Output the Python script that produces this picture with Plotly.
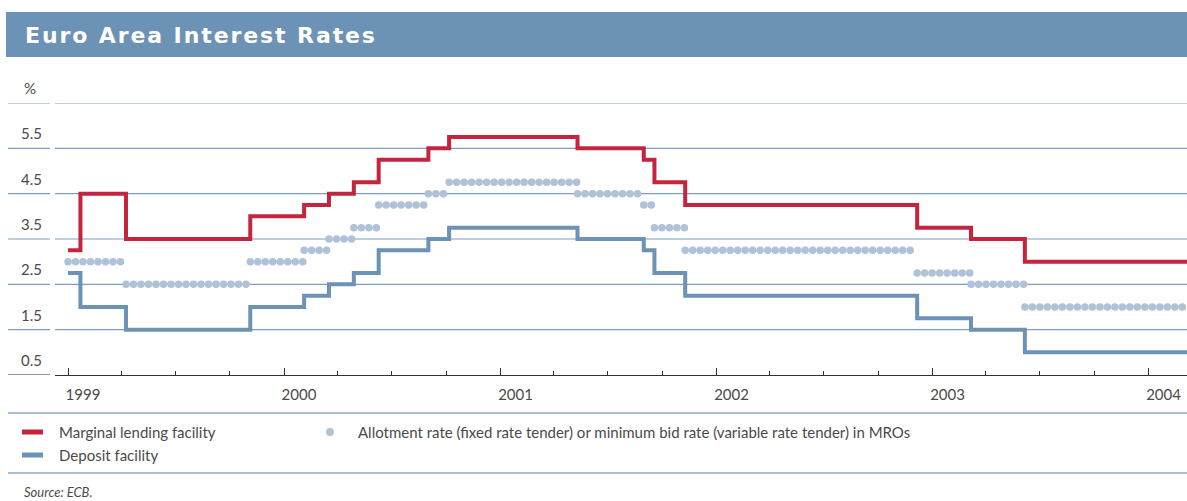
import plotly.graph_objects as go

# ---------------- data ----------------
change_dates = ["1999-01-01", "1999-01-22", "1999-04-09", "1999-11-05", "2000-02-04",
                "2000-03-17", "2000-04-28", "2000-06-09", "2000-09-01", "2000-10-06",
                "2001-05-11", "2001-08-31", "2001-09-18", "2001-11-09", "2002-12-06",
                "2003-03-07", "2003-06-06"]
end_date = "2004-03-06"
marginal_lending = [3.25, 4.50, 3.50, 4.00, 4.25, 4.50, 4.75, 5.25, 5.50, 5.75,
                    5.50, 5.25, 4.75, 4.25, 3.75, 3.50, 3.00]
deposit_facility = [2.75, 2.00, 1.50, 2.00, 2.25, 2.50, 2.75, 3.25, 3.50, 3.75,
                    3.50, 3.25, 2.75, 2.25, 1.75, 1.50, 1.00]
mro_rate = [3.00, 3.00, 2.50, 3.00, 3.25, 3.50, 3.75, 4.25, 4.50, 4.75,
            4.50, 4.25, 3.75, 3.25, 2.75, 2.50, 2.00]
y_ticks = [0.5, 1.5, 2.5, 3.5, 4.5, 5.5]
grid_vals = [1.5, 2.5, 3.5, 4.5, 5.5, 6.5]
x_range = ["1998-12-10", "2004-03-06"]

title_text = "Euro Area Interest Rates"
legend_labels = ["Marginal lending facility", "Deposit facility",
                 "Allotment rate (fixed rate tender) or minimum bid rate (variable rate tender) in MROs"]
source_text = "Source: ECB."

# ---------------- styles ----------------
RED = "#c3253f"
BLUE = "#6c92b5"
DOT = "#b0c2d8"
GRID = "#7d9dc0"
SEP = "#a9bfd6"
TXT = "#4a4a4a"
FONT = "Lato"

W, H = 1187, 501
L, R, T, B = 55, 1187, 103, 375


def px(x):
    return (x - L) / (R - L)


def py(y):
    return (B - y) / (B - T)


fig = go.Figure()

# MRO dotted segments (no vertical connectors)
seg_x, seg_y = [], []
i, n = 0, len(mro_rate)
while i < n:
    j = i
    while j + 1 < n and mro_rate[j + 1] == mro_rate[i]:
        j += 1
    start = change_dates[i]
    stop = change_dates[j + 1] if j + 1 < n else end_date
    seg_x += [start, stop, None]
    seg_y += [mro_rate[i], mro_rate[i], None]
    i = j + 1

fig.add_trace(go.Scatter(x=seg_x, y=seg_y, mode="lines", connectgaps=False,
                         line=dict(color=DOT, width=7.5, dash="0px,7.5px"),
                         hoverinfo="skip", showlegend=False))

fig.add_trace(go.Scatter(x=change_dates + [end_date], y=deposit_facility + [deposit_facility[-1]],
                         mode="lines", line=dict(color=BLUE, width=4, shape="hv"),
                         showlegend=False))
fig.add_trace(go.Scatter(x=change_dates + [end_date], y=marginal_lending + [marginal_lending[-1]],
                         mode="lines", line=dict(color=RED, width=4, shape="hv"),
                         showlegend=False))

shapes = []
# title bar
shapes.append(dict(type="rect", xref="paper", yref="paper", x0=px(6), x1=px(1187),
                   y0=py(57), y1=py(12), fillcolor=BLUE, line=dict(width=0), layer="below"))
# gridlines (main + left stub)
for v in grid_vals:
    for a, b in [(8, 50), (55, 1187)]:
        shapes.append(dict(type="line", xref="paper", yref="y", x0=px(a), x1=px(b), y0=v, y1=v,
                           line=dict(color=GRID, width=1.2), layer="below"))
# bottom axis left stub
shapes.append(dict(type="line", xref="paper", yref="y", x0=px(8), x1=px(50), y0=0.5, y1=0.5,
                   line=dict(color="#333333", width=1.2), layer="above"))
# separators
for yy in [413, 473]:
    shapes.append(dict(type="line", xref="paper", yref="paper", x0=px(8), x1=px(1187),
                       y0=py(yy), y1=py(yy), line=dict(color=SEP, width=2)))
# legend samples
shapes.append(dict(type="line", xref="paper", yref="paper", x0=px(22), x1=px(43),
                   y0=py(432), y1=py(432), line=dict(color=RED, width=5)))
shapes.append(dict(type="line", xref="paper", yref="paper", x0=px(22), x1=px(43),
                   y0=py(455), y1=py(455), line=dict(color=BLUE, width=5)))
shapes.append(dict(type="circle", xref="paper", yref="paper", x0=px(326), x1=px(334),
                   y0=py(436), y1=py(428), fillcolor=DOT, line=dict(width=0)))

ann = []
ann.append(dict(text=title_text, xref="paper", yref="paper", x=px(23), y=py(35),
                xanchor="left", yanchor="middle", showarrow=False,
                font=dict(family="DejaVu Sans", size=22, color="white", weight="bold")))
for v in y_ticks:
    ann.append(dict(text=f"{v:.1f}", xref="paper", yref="y", x=px(19), y=v, xanchor="left",
                    yanchor="bottom", yshift=4, showarrow=False,
                    font=dict(family=FONT, size=15, color=TXT)))
ann.append(dict(text="%", xref="paper", yref="y", x=px(22), y=6.5, xanchor="left",
                yanchor="bottom", yshift=4, showarrow=False,
                font=dict(family=FONT, size=15, color=TXT)))
for txt, xx, yy in [(legend_labels[0], 57, 432), (legend_labels[1], 57, 455), (legend_labels[2], 356, 432)]:
    ann.append(dict(text=txt, xref="paper", yref="paper", x=px(xx), y=py(yy), xanchor="left",
                    yanchor="middle", showarrow=False, font=dict(family=FONT, size=15, color=TXT)))
ann.append(dict(text="<i>" + source_text + "</i>", xref="paper", yref="paper", x=px(22), y=py(492),
                xanchor="left", yanchor="middle", showarrow=False,
                font=dict(family=FONT, size=13, color=TXT)))

fig.update_layout(
    width=W, height=H,
    margin=dict(l=L, r=W - R, t=T, b=H - B, pad=0),
    paper_bgcolor="white", plot_bgcolor="white",
    shapes=shapes, annotations=ann,
    xaxis=dict(type="date", range=x_range, showgrid=False, zeroline=False,
               showline=True, linecolor="#333333", linewidth=1.2,
               ticks="inside", ticklen=7, tickwidth=1, tickcolor="#333333",
               dtick="M12", tick0="1999-01-01", tickformat="%Y",
               ticklabelshift=15, ticklabelstandoff=6,
               tickfont=dict(family=FONT, size=15, color=TXT),
               minor=dict(ticks="inside", ticklen=4, tickwidth=1, tickcolor="#333333",
                          dtick="M3", tick0="1999-01-01", showgrid=False),
               fixedrange=True),
    yaxis=dict(range=[0.5, 6.5], showgrid=False, zeroline=False, showticklabels=False,
               ticks="", showline=False, fixedrange=True),
    showlegend=False,
)

post = """
document.body.style.margin = '0';
var gd = document.getElementById('{plot_id}');
var tr = gd.querySelectorAll('.scatterlayer .trace');
if (tr.length) {
  tr[0].querySelectorAll('path').forEach(function(p){ p.style.strokeLinecap = 'round'; });
}
var at = gd.querySelectorAll('.annotation-text');
if (at.length) {
  var el = at[0];
  var bb = el.getBBox();
  el.setAttribute('text-anchor', 'start');
  el.setAttribute('x', bb.x);
  el.style.letterSpacing = '1.9px';
}
"""
fig.write_html("out.html", post_script=post, config={"displayModeBar": False})
